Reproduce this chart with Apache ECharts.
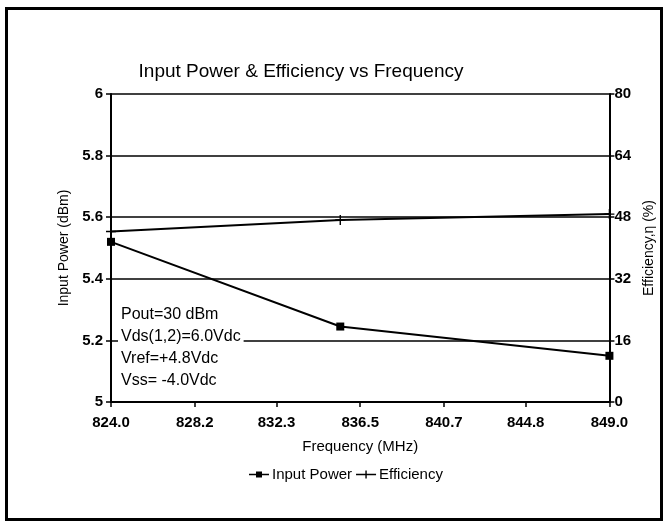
<!DOCTYPE html>
<html><head><meta charset="utf-8">
<script src="https://cdn.jsdelivr.net/npm/echarts@6/dist/echarts.min.js"></script>
<style>html,body{margin:0;padding:0;background:#fff}#c{width:664px;height:523px}</style>
</head><body><div id="c"></div>
<script>
const frequencies = [824.0, 835.5, 849.0];
const inputPower = [5.52, 5.245, 5.15];
const efficiency = [44.3, 47.3, 48.8];
const xTickLabels = ['824.0', '828.2', '832.3', '836.5', '840.7', '844.8', '849.0'];
const notes = ['Pout=30 dBm', 'Vds(1,2)=6.0Vdc', 'Vref=+4.8Vdc', 'Vss= -4.0Vdc'];

const FONT = 'Liberation Sans';
const chart = echarts.init(document.getElementById('c'));
const plusPath = 'path://M4.3,0H5.7V4.3H10V5.7H5.7V10H4.3V5.7H0V4.3H4.3Z';
chart.setOption({
  animation: false,
  backgroundColor: '#fff',
  title: {
    text: 'Input Power & Efficiency vs Frequency',
    left: 296, top: 57, textAlign: 'center',
    textStyle: { fontFamily: FONT, fontSize: 19, fontWeight: 'normal', color: '#000' }
  },
  grid: { left: 111, right: 53, top: 94, bottom: 121 },
  legend: {
    top: 462, left: 244, itemWidth: 20, itemHeight: 8, itemGap: 4,
    textStyle: { fontFamily: FONT, fontSize: 15, color: '#000', padding: [0, 0, 0, -2] },
    data: [
      { name: 'Input Power', icon: 'path://M0,3.2H7V1H13V3.2H20V4.8H13V7H7V4.8H0Z' },
      { name: 'Efficiency', icon: 'path://M0,3.3H9.3V0H10.7V3.3H20V4.7H10.7V8H9.3V4.7H0Z' }
    ]
  },
  xAxis: {
    type: 'value', min: 824, max: 849,
    name: 'Frequency (MHz)', nameLocation: 'middle', nameGap: 37,
    nameTextStyle: { fontFamily: FONT, fontSize: 15, color: '#000' },
    axisLine: { lineStyle: { color: '#000', width: 2 } },
    axisTick: { show: true, length: 5, lineStyle: { color: '#000', width: 1.5 }, customValues: xTickLabels.map(Number) },
    axisLabel: { customValues: xTickLabels.map(Number), formatter: v => v.toFixed(1), margin: 13,
      fontFamily: FONT, fontSize: 15, fontWeight: 'bold', color: '#000' },
    splitLine: { show: false }
  },
  yAxis: [
    {
      type: 'value', min: 5, max: 6, interval: 0.2,
      name: 'Input Power (dBm)', nameLocation: 'middle', nameGap: 38, nameRotate: 90,
      nameTextStyle: { fontFamily: FONT, fontSize: 14, color: '#000' },
      axisLine: { show: true, lineStyle: { color: '#000', width: 2 } },
      axisTick: { show: true, length: 5, lineStyle: { color: '#000', width: 1.5 } },
      axisLabel: { margin: 8, fontFamily: FONT, fontSize: 15, fontWeight: 'bold', color: '#000',
        formatter: v => String(Math.round(v * 10) / 10) },
      splitLine: { show: true, lineStyle: { color: '#000', width: 1.6 } }
    },
    {
      type: 'value', min: 0, max: 80, interval: 16, position: 'right',
      name: 'Efficiency,η (%)', nameLocation: 'middle', nameGap: 30, nameRotate: 90,
      nameTextStyle: { fontFamily: FONT, fontSize: 14, color: '#000' },
      axisLine: { show: true, lineStyle: { color: '#000', width: 2 } },
      axisTick: { show: true, length: 5, lineStyle: { color: '#000', width: 1.5 } },
      axisLabel: { margin: 5, fontFamily: FONT, fontSize: 15, fontWeight: 'bold', color: '#000' },
      splitLine: { show: false }
    }
  ],
  series: [
    {
      name: 'Input Power', type: 'line', yAxisIndex: 0,
      data: frequencies.map((f, i) => [f, inputPower[i]]),
      symbol: 'rect', symbolSize: 8,
      lineStyle: { color: '#000', width: 2 }, itemStyle: { color: '#000' }, z: 3
    },
    {
      name: 'Efficiency', type: 'line', yAxisIndex: 1,
      data: frequencies.map((f, i) => [f, efficiency[i]]),
      symbol: plusPath, symbolSize: 10,
      lineStyle: { color: '#000', width: 2 }, itemStyle: { color: '#000' }, z: 3
    }
  ],
  graphic: [
    { type: 'rect', left: 4, top: 6, shape: { width: 655, height: 511 },
      style: { fill: 'none', stroke: '#000', lineWidth: 3 }, silent: true },
    { type: 'text', left: 118, top: 304, z: 10,
      style: { text: notes.join('\n'), font: '16px "Liberation Sans"', lineHeight: 22,
        fill: '#000', backgroundColor: '#fff', padding: [0, 3, 0, 3] } }
  ]
});
</script></body></html>
